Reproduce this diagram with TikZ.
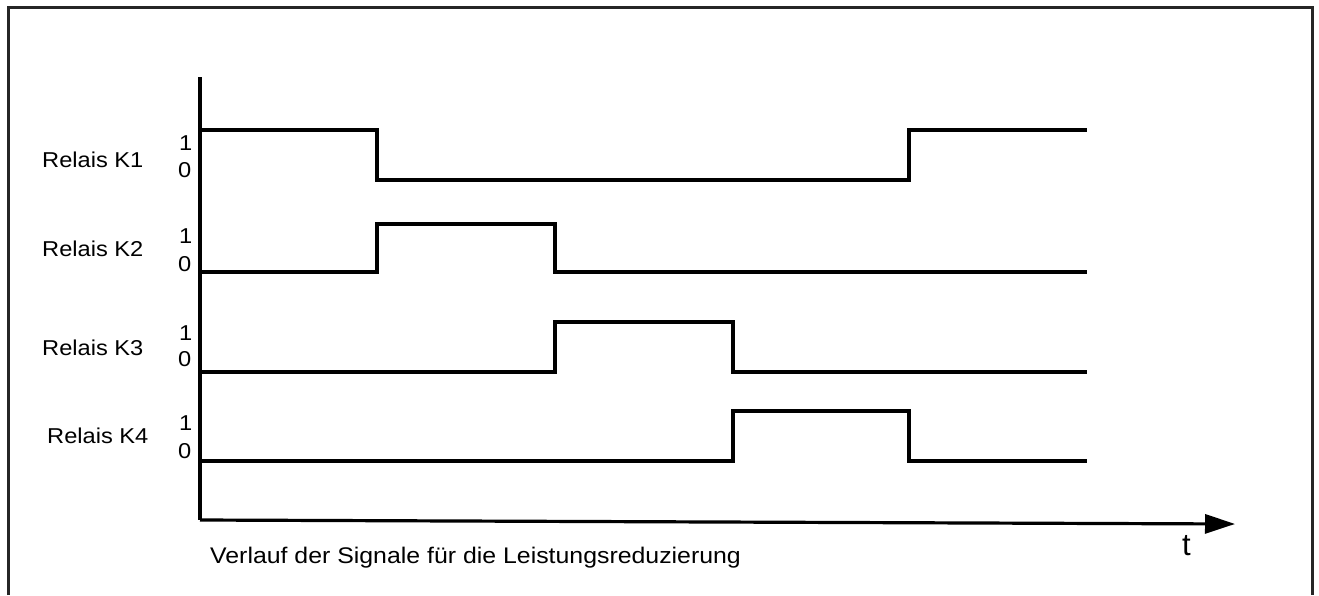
\documentclass[tikz,border=0pt]{standalone}
\usepackage{fontspec}
\setmainfont[FakeStretch=1.1]{Liberation Sans}
\newfontfamily\tfont{Liberation Sans}
\usetikzlibrary{arrows.meta}
\tikzset{
  lbl/.style={anchor=base west,inner sep=0pt,font=\fontsize{21.5}{21.5}\selectfont},
  dig/.style={anchor=base west,inner sep=0pt,font=\fontsize{21.5}{21.5}\selectfont},
  sig/.style={line width=3.2pt,line join=miter,line cap=butt},
  ax/.style={line width=3.2pt},
  frame/.style={line width=3pt,draw=black!85}
}
\begin{document}
\begin{tikzpicture}[x=1pt,y=-1pt]
\useasboundingbox (0,0) rectangle (1319,595);
\fill[white] (0,0) rectangle (1319,595);
% frame
\draw[frame] (8,595) -- (8,7) -- (1312,7) -- (1312,595);
% axes
\coordinate (ytop) at (200,77);
\coordinate (orig) at (200,520);
\coordinate (tend) at (1235,524);
\draw[ax] (ytop) -- (orig);
\draw[ax,-{Triangle[length=30pt,width=19pt]}] (orig) -- (tend);
\node[anchor=base west,inner sep=0pt,font=\tfont\fontsize{31}{31}\selectfont] (t) at (1182,555) {t};
% labels
\node[lbl] (l1) at (42,167) {Relais K1};
\node[lbl] (l2) at (42,256) {Relais K2};
\node[lbl] (l3) at (42,355) {Relais K3};
\node[lbl] (l4) at (47,443) {Relais K4};
\node[dig] (o1) at (179,150) {1};
\node[dig] (z1) at (178,177) {0};
\node[dig] (o2) at (179,243) {1};
\node[dig] (z2) at (178,271) {0};
\node[dig] (o3) at (179,340) {1};
\node[dig] (z3) at (178,366) {0};
\node[dig] (o4) at (179,430) {1};
\node[dig] (z4) at (178,458) {0};
% signals
\draw[sig] (200,130) -- (377,130) -- (377,180) -- (909,180) -- (909,130) -- (1087,130);
\draw[sig] (200,272) -- (377,272) -- (377,224) -- (555,224) -- (555,272) -- (1087,272);
\draw[sig] (200,372) -- (555,372) -- (555,322) -- (733,322) -- (733,372) -- (1087,372);
\draw[sig] (200,461) -- (733,461) -- (733,411) -- (909,411) -- (909,461) -- (1087,461);
% caption
\node[anchor=base west,inner sep=0pt,font=\fontsize{22.6}{22.6}\selectfont] (cap) at (210,563) {Verlauf der Signale für die Leistungsreduzierung};
\end{tikzpicture}
\end{document}
